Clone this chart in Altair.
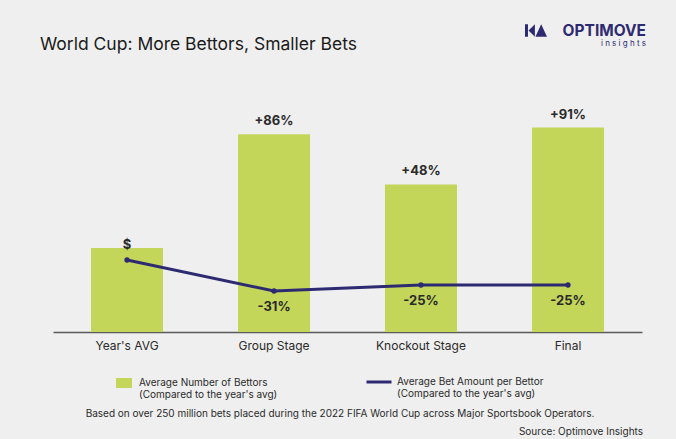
import altair as alt
import pandas as pd

# ---- data -------------------------------------------------------------
stages = ["Year's AVG", "Group Stage", "Knockout Stage", "Final"]
bettors_index = [100, 186, 148, 191]          # year's avg = 100
bettors_labels = ["", "+86%", "+48%", "+91%"]
bet_amount_index = [100, 69, 75, 75]          # year's avg = 100
bet_amount_labels = ["$", "-31%", "-25%", "-25%"]

BAR_SERIES = "Average Number of Bettors|(Compared to the year's avg)"
LINE_SERIES = "Average Bet Amount per Bettor|(Compared to the year's avg)"

title = "World Cup: More Bettors, Smaller Bets"
footnote = ("Based on over 250 million bets placed during the 2022 FIFA World Cup "
            "across Major Sportsbook Operators.")
source = "Source: Optimove Insights"

# ---- style ------------------------------------------------------------
FONT = "Inter"
GREEN = "#c4d65a"
NAVY = "#2e2a72"
TEXT = "#2a2a2a"
BG = "#efefef"

df = pd.DataFrame({
    "stage": stages,
    "bettors": bettors_index,
    "bettors_label": bettors_labels,
    "amount": bet_amount_index,
    "amount_label": bet_amount_labels,
    "bar_series": [BAR_SERIES] * len(stages),
    "line_series": [LINE_SERIES] * len(stages),
})

x_enc = alt.X(
    "stage:N",
    sort=stages,
    scale=alt.Scale(paddingInner=0.51, paddingOuter=0.2585),
    axis=alt.Axis(
        title=None, labelAngle=0, ticks=False, grid=False,
        domainColor="#5a5a5a", domainWidth=1.5,
        labelFont=FONT, labelFontSize=12, labelColor=TEXT, labelPadding=8,
    ),
)

bar_y = alt.Scale(domain=[36.6, 211.8], zero=False, nice=False)
line_y = alt.Scale(domain=[28, 260], zero=False, nice=False)

legend_common = dict(
    orient="none", title=None, labelFont=FONT, labelFontSize=10,
    labelColor=TEXT, labelLimit=400, labelExpr="split(datum.label, '|')",
    padding=0,
)

base = alt.Chart(df)

bars = base.mark_bar(clip=True).encode(
    x=x_enc,
    y=alt.Y("bettors:Q", scale=bar_y, axis=None),
    color=alt.Color(
        "bar_series:N",
        scale=alt.Scale(domain=[BAR_SERIES], range=[GREEN]),
        legend=alt.Legend(
            legendX=63, legendY=275,
            symbolType="M-1,-0.625H1V0.625H-1Z", symbolSize=256,
            symbolStrokeWidth=0, symbolOpacity=1, labelOffset=7,
            **legend_common,
        ),
    ),
)

bar_text = base.transform_filter("datum.bettors_label != ''").mark_text(
    font=FONT, fontSize=13, fontWeight="bold", color=TEXT, dy=-13,
    baseline="middle",
).encode(
    x=alt.X("stage:N", sort=stages),
    y=alt.Y("bettors:Q", scale=bar_y, axis=None),
    text="bettors_label:N",
)

line = base.mark_line(strokeWidth=3).encode(
    x=alt.X("stage:N", sort=stages),
    y=alt.Y("amount:Q", scale=line_y, axis=None),
    stroke=alt.Stroke(
        "line_series:N",
        scale=alt.Scale(domain=[LINE_SERIES], range=[NAVY]),
        legend=alt.Legend(
            legendX=312, legendY=268,
            symbolType="stroke", symbolSize=625, symbolStrokeWidth=3,
            **legend_common,
        ),
    ),
)

points = base.mark_point(filled=True, size=28, color=NAVY, opacity=1).encode(
    x=alt.X("stage:N", sort=stages),
    y=alt.Y("amount:Q", scale=line_y, axis=None),
)

line_text_above = base.transform_filter("datum.amount_label == '$'").mark_text(
    font=FONT, fontSize=13, fontWeight="bold", color=TEXT, dy=-15,
    baseline="middle",
).encode(
    x=alt.X("stage:N", sort=stages),
    y=alt.Y("amount:Q", scale=line_y, axis=None),
    text="amount_label:N",
)

line_text_below = base.transform_filter("datum.amount_label != '$'").mark_text(
    font=FONT, fontSize=13, fontWeight="bold", color=TEXT, dy=16,
    baseline="middle",
).encode(
    x=alt.X("stage:N", sort=stages),
    y=alt.Y("amount:Q", scale=line_y, axis=None),
    text="amount_label:N",
)

# ---- heading, notes and brand mark ------------------------------------
heading = alt.Chart(pd.DataFrame({"t": [title]})).mark_text(
    font=FONT, fontSize=17.5, color="#1a1a1a", align="left", baseline="middle",
).encode(x=alt.value(-13), y=alt.value(-55), text="t:N")

notes = alt.Chart(pd.DataFrame({"t": [footnote]})).mark_text(
    font=FONT, fontSize=10, color=TEXT, align="center", baseline="middle",
).encode(x=alt.value(287), y=alt.value(314), text="t:N")

src = alt.Chart(pd.DataFrame({"t": [source]})).mark_text(
    font=FONT, fontSize=10, color=TEXT, align="right", baseline="middle",
).encode(x=alt.value(590), y=alt.value(332), text="t:N")

brand = alt.Chart(pd.DataFrame({"t": ["OPTIMOVE"]})).mark_text(
    font=FONT, fontSize=15.5, fontWeight="bold", color=NAVY, align="right",
    baseline="middle",
).encode(x=alt.value(593), y=alt.value(-69), text="t:N")

brand_sub = alt.Chart(pd.DataFrame({"t": ["i n s i g h t s"]})).mark_text(
    font=FONT, fontSize=8, color=NAVY, align="right", baseline="middle",
).encode(x=alt.value(593), y=alt.value(-56), text="t:N")

brand_icon = alt.Chart(pd.DataFrame({"k": [0]})).mark_point(
    filled=True, opacity=1, color=NAVY, size=484,
    shape=("M-1,-0.57H-0.73V0.57H-1Z "
           "M-0.68,0L-0.1,-0.57V0.57Z "
           "M-0.05,0.57L0.47,-0.57L1,0.57Z"),
).encode(x=alt.value(483), y=alt.value(-69.5))

chart = alt.layer(
    bars, bar_text, line, points, line_text_above, line_text_below,
    heading, notes, src, brand, brand_sub, brand_icon,
).resolve_scale(
    y="independent"
).properties(
    width=589,
    height=232,
    autosize="none",
    padding={"left": 53, "top": 100, "right": 34, "bottom": 107},
    background=BG,
).configure_view(stroke=None)

chart.save("out.html", embed_options={"renderer": "svg", "actions": False})
